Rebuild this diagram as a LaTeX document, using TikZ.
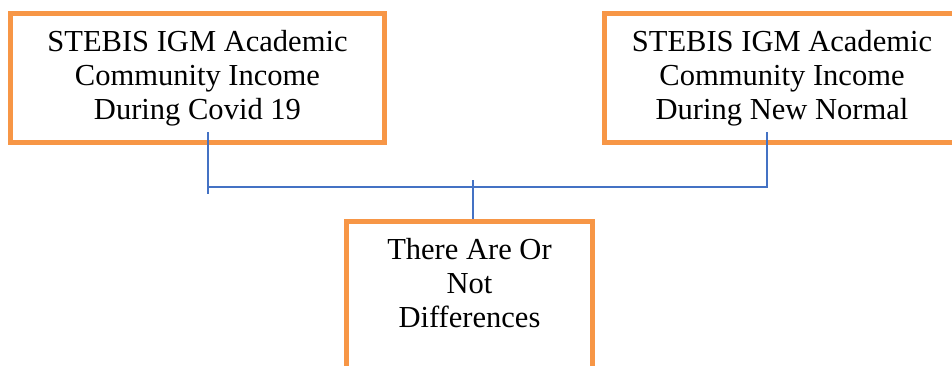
\documentclass[tikz,border=0pt]{standalone}
\usepackage{fontspec}
\setmainfont{Liberation Serif}
\usetikzlibrary{positioning, calc}
\definecolor{boxorange}{HTML}{F79646}
\definecolor{linkblue}{HTML}{4472C4}

\begin{document}
\begin{tikzpicture}[
    every node/.style={font=\fontsize{22.9pt}{25.5pt}\selectfont},
    box/.style={draw=boxorange, rectangle, line width=3.75pt, align=center, minimum height=96.75pt},
    link/.style={draw=linkblue, line width=1.5pt}
    ]
    \useasboundingbox (0,0) rectangle (714pt,-273.75pt);
    \node[box, minimum width=280.5pt] (covid) at (148.1pt,-58.5pt) {STEBIS IGM Academic\\Community Income\\During Covid 19};
    \node[box, minimum width=266.25pt] (normal) at (586.5pt,-58.5pt) {STEBIS IGM Academic\\Community Income\\During New Normal};
    \node[box, minimum width=184.5pt, minimum height=0pt, inner ysep=13.3pt, text depth=90pt, anchor=north] (diff) at (352.1pt,-163.9pt) {There Are Or\\Not\\Differences};
    % bracket joining the two upper boxes
    \coordinate (jl) at ($(covid.south)+(7.9pt,-31.85pt)$);
    \coordinate (jr) at ($(normal.south)+(-11.25pt,-31.85pt)$);
    \coordinate (jm) at ($(diff.north)+(2.6pt,28.9pt)$);
    \draw[link] ($(jl)+(0,41.25pt)$) -- ($(jl)+(0,-5.25pt)$);
    \draw[link] ($(jr)+(0,41.25pt)$) |- (jl);
    \draw[link] (jm) -- (jm |- diff.north);
\end{tikzpicture}
\end{document}
